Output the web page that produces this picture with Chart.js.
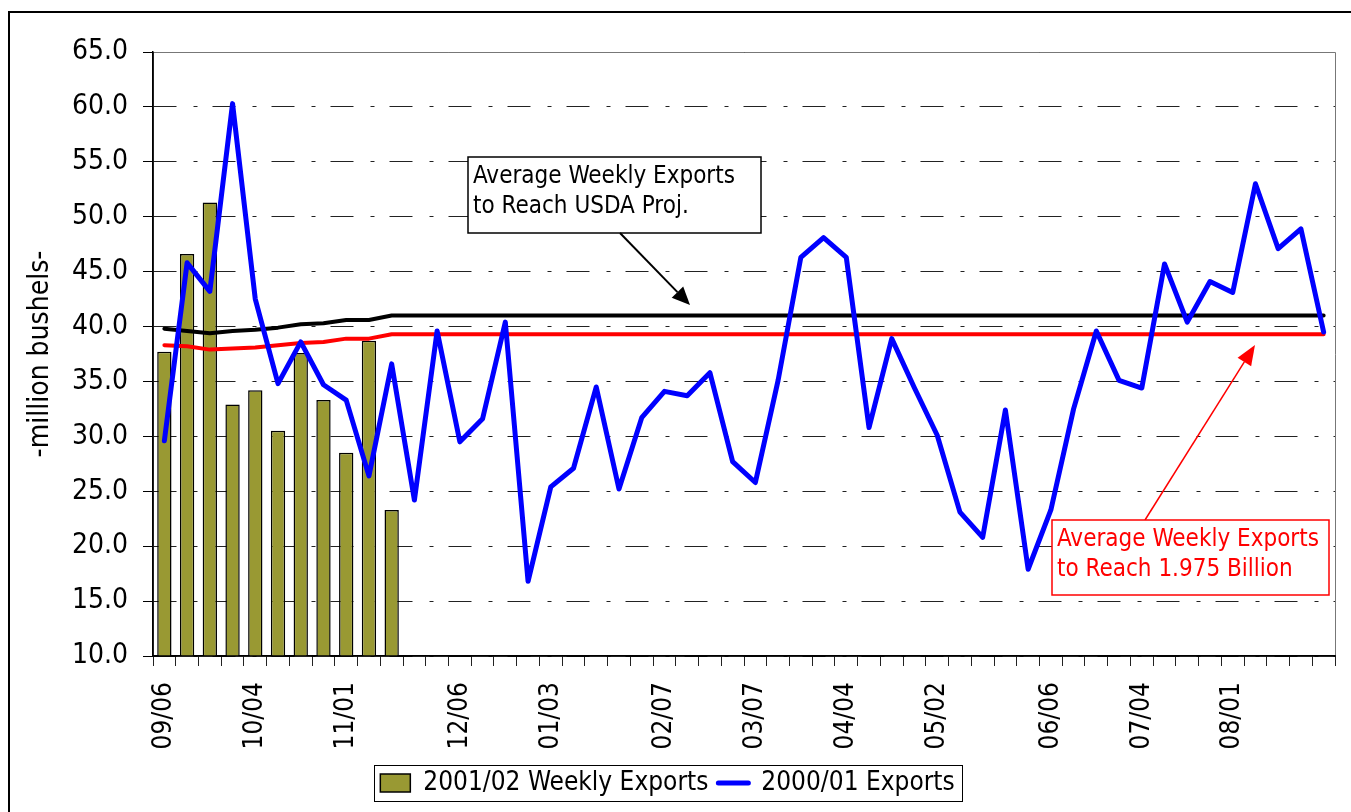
<!DOCTYPE html>
<html>
<head>
<meta charset="utf-8">
<script src="https://cdn.jsdelivr.net/npm/chart.js@4.4.1/dist/chart.umd.min.js"></script>
<style>
  html, body { margin: 0; padding: 0; background: #fff; }
  #wrap { position: relative; width: 1351px; height: 812px; overflow: hidden; }
  canvas { display: block; }
</style>
</head>
<body>
<div id="wrap"><canvas id="chart" width="1351" height="812"></canvas></div>
<script>
// weekly categories (week ending dates)
const weeks = [
  '09/06','09/13','09/20','09/27','10/04','10/11','10/18','10/25','11/01','11/08',
  '11/15','11/22','11/29','12/06','12/13','12/20','12/27','01/03','01/10','01/17',
  '01/24','01/31','02/07','02/14','02/21','02/28','03/07','03/14','03/21','03/28',
  '04/04','04/11','04/18','04/25','05/02','05/09','05/16','05/23','05/30','06/06',
  '06/13','06/20','06/27','07/04','07/11','07/18','07/25','08/01','08/08','08/15',
  '08/22','08/29'
];
// only these dates get a label on the axis
const labeledWeeks = ['09/06','10/04','11/01','12/06','01/03','02/07','03/07','04/04','05/02','06/06','07/04','08/01'];

const exports0102 = [37.7, 46.6, 51.3, 32.9, 34.2, 30.5, 37.6, 33.3, 28.5, 38.7, 23.3];

const exports0001 = [
  29.6, 45.8, 43.2, 60.3, 42.5, 34.8, 38.6, 34.7, 33.3, 26.4,
  36.6, 24.2, 39.6, 29.5, 31.6, 40.4, 16.8, 25.4, 27.1, 34.5,
  25.2, 31.7, 34.1, 33.7, 35.8, 27.7, 25.8, 35.1, 46.3, 48.1,
  46.3, 30.8, 38.9, 34.4, 30.1, 23.1, 20.8, 32.4, 17.9, 23.3,
  32.5, 39.6, 35.1, 34.4, 45.7, 40.4, 44.1, 43.1, 53.0, 47.1,
  48.9, 39.5
];

const usdaAvg = [
  39.8, 39.6, 39.4, 39.6, 39.7, 39.9, 40.2, 40.3, 40.6, 40.6,
  41.0, 41.0, 41.0, 41.0, 41.0, 41.0, 41.0, 41.0, 41.0, 41.0,
  41.0, 41.0, 41.0, 41.0, 41.0, 41.0, 41.0, 41.0, 41.0, 41.0,
  41.0, 41.0, 41.0, 41.0, 41.0, 41.0, 41.0, 41.0, 41.0, 41.0,
  41.0, 41.0, 41.0, 41.0, 41.0, 41.0, 41.0, 41.0, 41.0, 41.0,
  41.0, 41.0
];

const billionAvg = [
  38.3, 38.2, 37.9, 38.0, 38.1, 38.3, 38.5, 38.6, 38.9, 38.9,
  39.3, 39.3, 39.3, 39.3, 39.3, 39.3, 39.3, 39.3, 39.3, 39.3,
  39.3, 39.3, 39.3, 39.3, 39.3, 39.3, 39.3, 39.3, 39.3, 39.3,
  39.3, 39.3, 39.3, 39.3, 39.3, 39.3, 39.3, 39.3, 39.3, 39.3,
  39.3, 39.3, 39.3, 39.3, 39.3, 39.3, 39.3, 39.3, 39.3, 39.3,
  39.3, 39.3
];

const FONT = "'DejaVu Sans Condensed', 'DejaVu Sans', sans-serif";
Chart.defaults.font.family = FONT;
Chart.defaults.color = '#000';

// arrow helper for the call-out boxes
function arrow(ctx, x1, y1, x2, y2, color, width, headLen, headW) {
  const ang = Math.atan2(y2 - y1, x2 - x1);
  const bx = x2 - Math.cos(ang) * headLen, by = y2 - Math.sin(ang) * headLen;
  ctx.save();
  ctx.strokeStyle = color; ctx.fillStyle = color; ctx.lineWidth = width;
  ctx.beginPath(); ctx.moveTo(x1, y1); ctx.lineTo(bx, by); ctx.stroke();
  ctx.beginPath();
  ctx.moveTo(x2, y2);
  ctx.lineTo(bx + Math.sin(ang) * headW / 2, by - Math.cos(ang) * headW / 2);
  ctx.lineTo(bx - Math.sin(ang) * headW / 2, by + Math.cos(ang) * headW / 2);
  ctx.closePath(); ctx.fill();
  ctx.restore();
}

function callout(ctx, x, y, w, h, lines, color) {
  ctx.save();
  ctx.fillStyle = '#fff';
  ctx.fillRect(x, y, w, h);
  ctx.strokeStyle = color; ctx.lineWidth = 1.5;
  ctx.strokeRect(x, y, w, h);
  ctx.fillStyle = color;
  ctx.font = '24px ' + FONT;
  ctx.textBaseline = 'alphabetic';
  lines.forEach((t, i) => ctx.fillText(t, x + 5, y + 26 + i * 30));
  ctx.restore();
}

const decorations = {
  id: 'decorations',
  beforeDraw(chart) {
    const c = chart.ctx;
    c.save();
    c.fillStyle = '#fff';
    c.fillRect(0, 0, chart.width, chart.height);
    c.restore();
  },
  afterDraw(chart) {
    const c = chart.ctx;
    const a = chart.chartArea;
    c.save();
    // outer frame
    c.strokeStyle = '#000'; c.lineWidth = 2;
    c.strokeRect(9, 12, 3000, 3000);
    // plot area border on top / right
    c.strokeStyle = '#777'; c.lineWidth = 1;
    c.beginPath();
    c.moveTo(a.left, a.top + 0.5); c.lineTo(a.right + 0.5, a.top + 0.5); c.lineTo(a.right + 0.5, a.bottom);
    c.stroke();
    // solid axis lines
    c.strokeStyle = '#000'; c.lineWidth = 1.5;
    c.beginPath();
    c.moveTo(a.left, a.top); c.lineTo(a.left, a.bottom); c.lineTo(a.right + 1, a.bottom);
    c.stroke();
    // legend box
    const hb = chart.legend.legendHitBoxes;
    if (hb && hb.length) {
      const l = hb[0].left - 6, r = hb[hb.length - 1].left + hb[hb.length - 1].width + 8;
      const t = hb[0].top - 5, h = hb[0].height + 10;
      c.strokeStyle = '#000'; c.lineWidth = 1;
      c.strokeRect(Math.round(l) + 0.5, Math.round(t) + 0.5, Math.round(r - l), Math.round(h));
    }
    c.restore();

    callout(c, 468, 157, 293, 76, ['Average Weekly Exports', 'to Reach USDA Proj.'], '#000');
    arrow(c, 620, 233, 690, 305, '#000', 2, 18, 16);
    arrow(c, 1145, 520, 1255, 345, '#ff0000', 1.5, 20, 16);
    callout(c, 1052, 520, 277, 75, ['Average Weekly Exports', 'to Reach 1.975 Billion'], '#ff0000');
  }
};

new Chart(document.getElementById('chart').getContext('2d'), {
  type: 'bar',
  data: {
    labels: weeks,
    datasets: [
      {
        type: 'bar', label: '2001/02 Weekly Exports', data: exports0102,
        backgroundColor: '#999933', borderColor: '#000', borderWidth: 1.5,
        categoryPercentage: 1, barPercentage: 0.63, order: 3
      },
      {
        type: 'line', label: '2000/01 Exports', data: exports0001,
        borderColor: '#0000ff', borderWidth: 5, pointRadius: 0, tension: 0,
        borderJoinStyle: 'round', borderCapStyle: 'round', order: 0
      },
      {
        type: 'line', label: 'Average Weekly Exports to Reach USDA Proj.', data: usdaAvg,
        borderColor: '#000', borderWidth: 4, pointRadius: 0, tension: 0,
        borderJoinStyle: 'round', borderCapStyle: 'round', order: 1
      },
      {
        type: 'line', label: 'Average Weekly Exports to Reach 1.975 Billion', data: billionAvg,
        borderColor: '#ff0000', borderWidth: 4, pointRadius: 0, tension: 0,
        borderJoinStyle: 'round', borderCapStyle: 'round', order: 2
      }
    ]
  },
  options: {
    responsive: false,
    animation: false,
    devicePixelRatio: 1,
    layout: { padding: { left: 0, right: 16, top: 52, bottom: 6 } },
    plugins: {
      tooltip: { enabled: false },
      legend: {
        position: 'bottom',
        labels: {
          usePointStyle: true,
          pointStyleWidth: 30,
          boxHeight: 18,
          padding: 10,
          font: { size: 26 },
          generateLabels(chart) {
            const ds = chart.data.datasets;
            return [
              { text: ds[0].label, fillStyle: '#999933', strokeStyle: '#000', lineWidth: 1.5,
                pointStyle: 'rect', datasetIndex: 0, fontColor: '#000' },
              { text: ds[1].label, fillStyle: '#0000ff', strokeStyle: '#0000ff', lineWidth: 5,
                lineCap: 'round', pointStyle: 'line', datasetIndex: 1, fontColor: '#000' }
            ];
          }
        }
      }
    },
    scales: {
      x: {
        offset: true,
        grid: { offset: true, drawOnChartArea: false, drawTicks: true, tickLength: 10, color: '#222', lineWidth: 1 },
        border: { color: '#000', width: 1.5 },
        ticks: {
          autoSkip: false, maxRotation: 90, minRotation: 90, padding: 16,
          font: { size: 26 },
          callback(v, i) { return labeledWeeks.includes(weeks[i]) ? weeks[i] : ''; }
        },
        afterFit(s) { s.height = 104; s.paddingLeft = 0; s.paddingRight = 0; }
      },
      y: {
        min: 10, max: 65,
        ticks: { stepSize: 5, padding: 15, font: { size: 28 }, callback: v => v.toFixed(1) },
        grid: { color: '#222', lineWidth: 1, tickLength: 10, tickColor: '#000', tickBorderDash: [] },
        border: { display: true, color: '#000', width: 1.5, dash: [23, 17, 4, 15] },
        title: { display: true, text: '-million bushels-', font: { size: 28 }, padding: { top: 24, bottom: 0 } },
        afterFit(s) { s.width = 153; }
      }
    }
  },
  plugins: [decorations]
});
</script>
</body>
</html>
